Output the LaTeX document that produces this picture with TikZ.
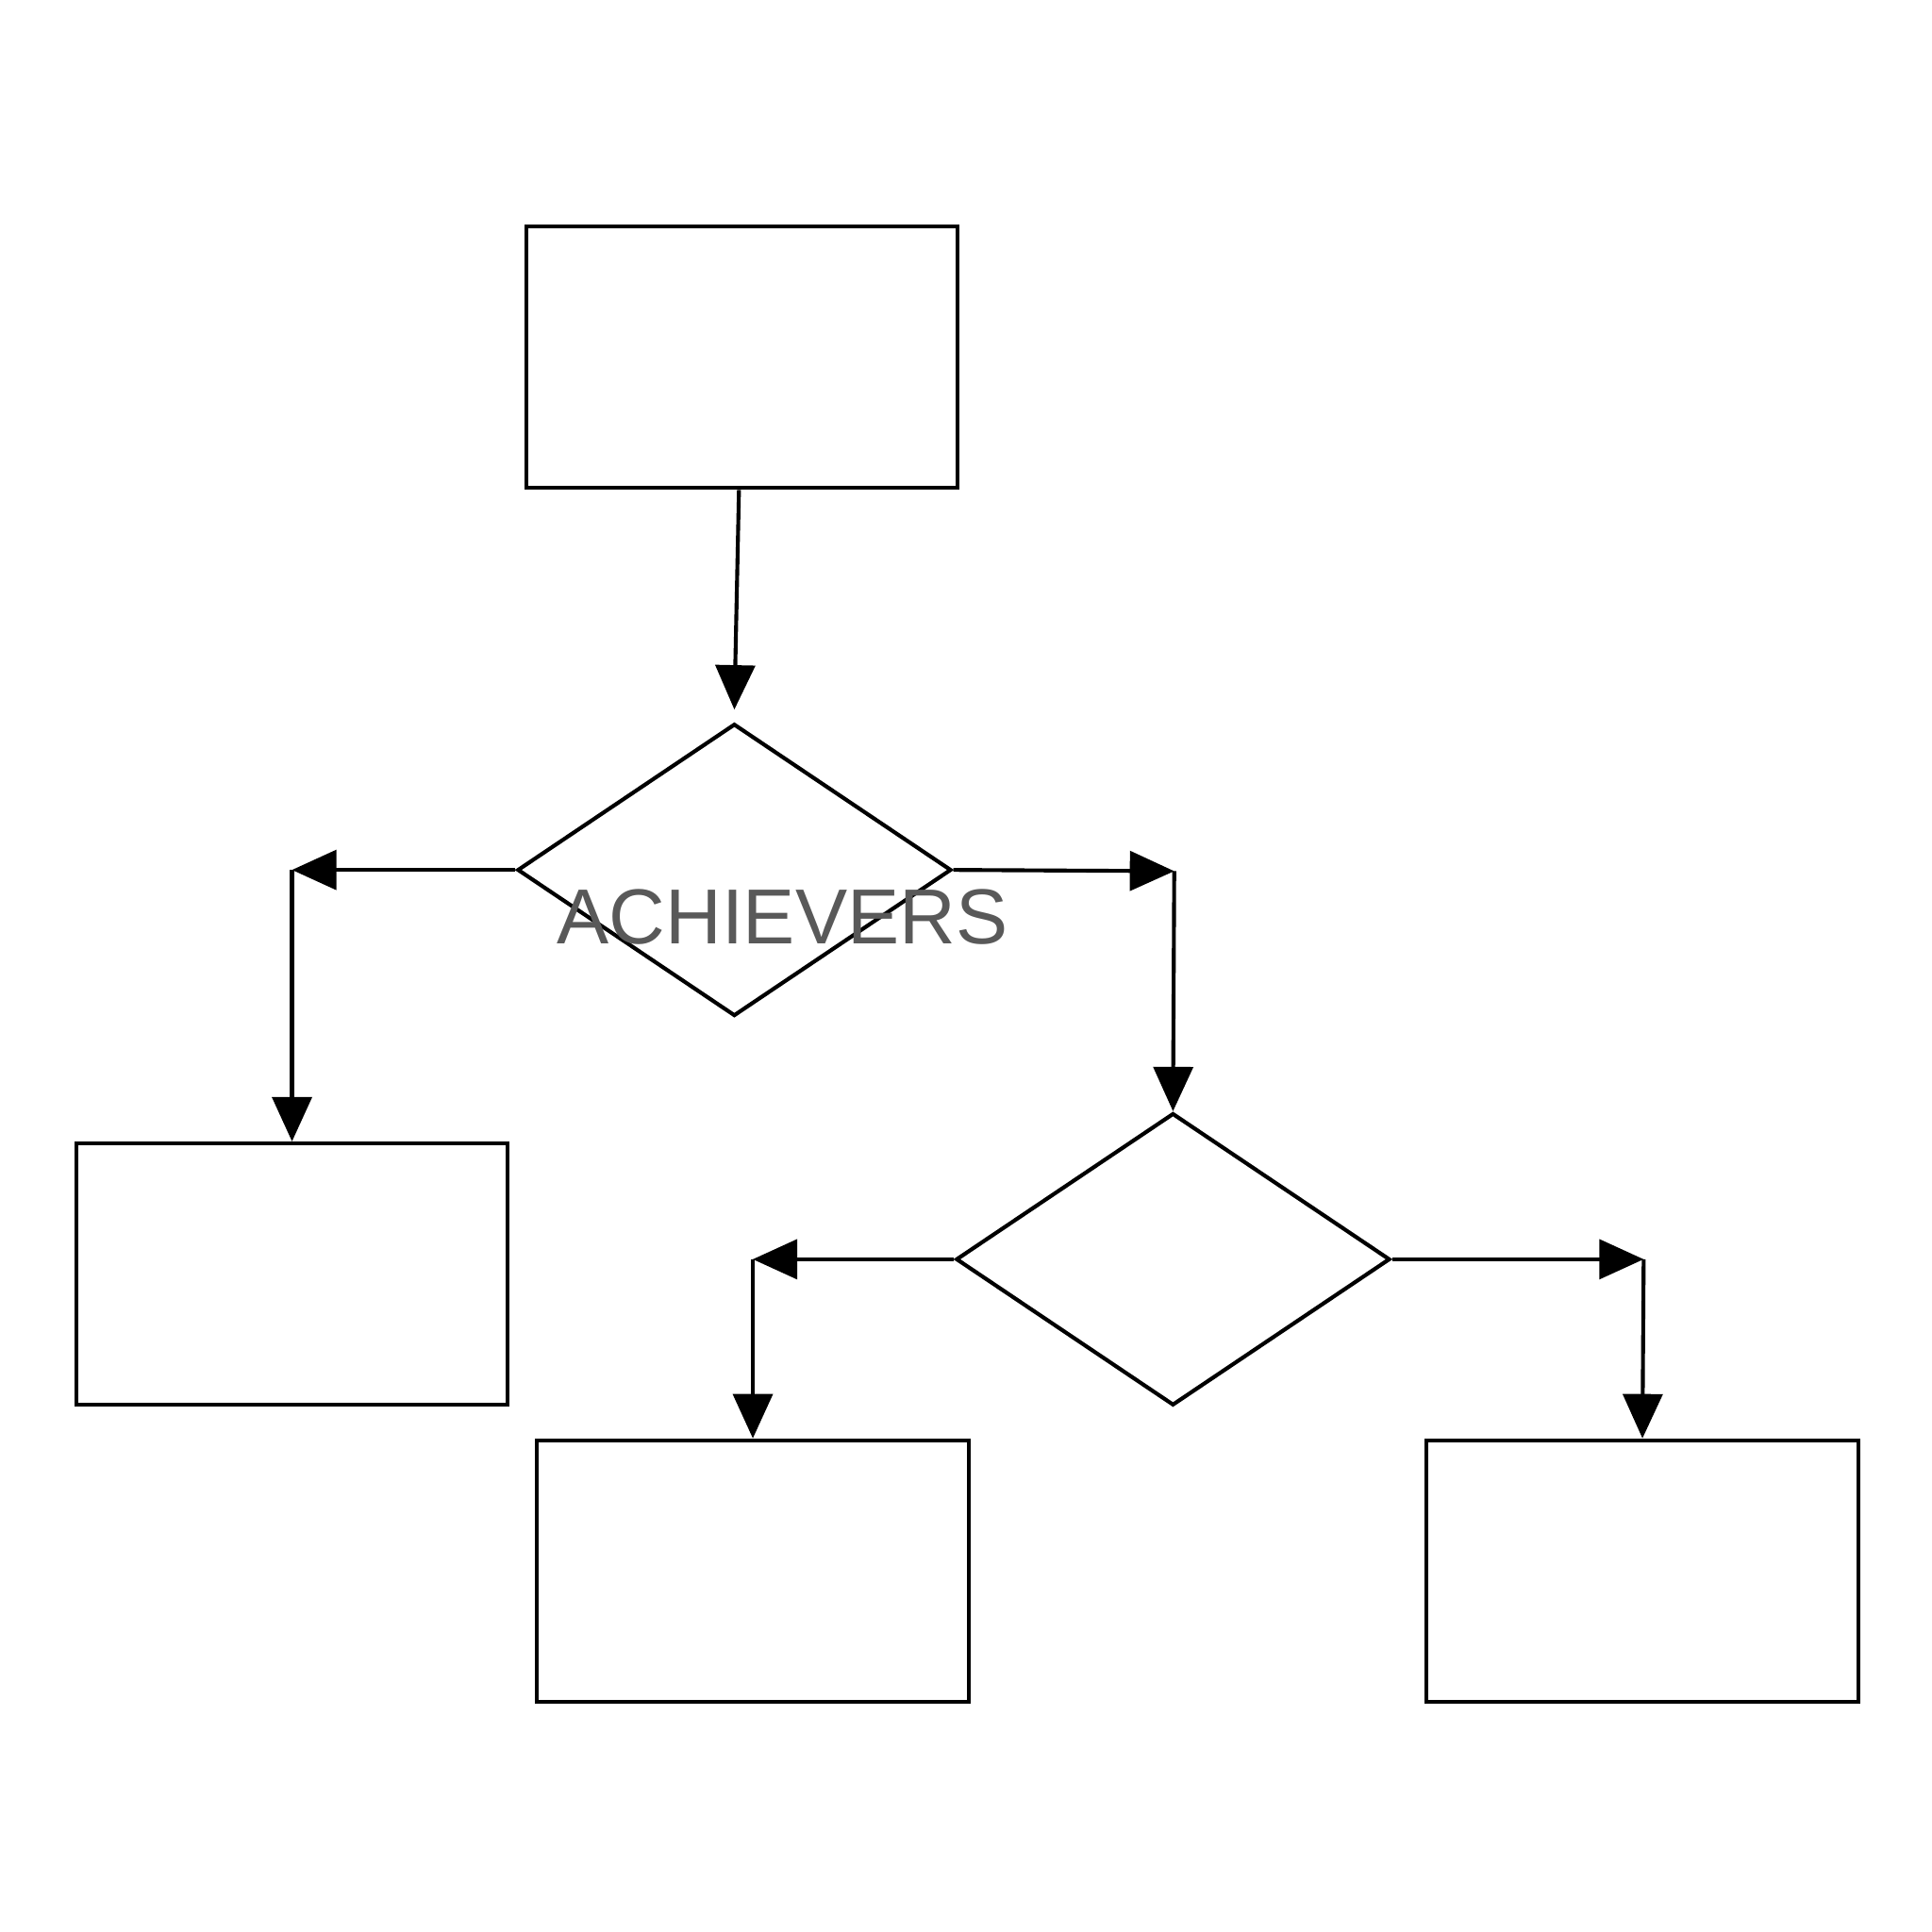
\documentclass[tikz,border=0pt]{standalone}
\usepackage{fontspec}
\setmainfont{Liberation Sans}
\usetikzlibrary{shapes.geometric,arrows.meta}
\tikzset{
    box/.style={draw, line width=0.9pt, minimum width=3.5cm, minimum height=2.12cm, inner sep=0pt},
    choice/.style={diamond, draw, line width=0.9pt, minimum width=3.52cm, minimum height=2.37cm, inner sep=0pt},
    flow/.style={line width=0.9pt, -{Triangle[length=0.36cm, width=0.32cm]}}
}
\begin{document}
\begin{tikzpicture}[x=0.01cm, y=-0.01cm]
    \useasboundingbox (0,0) rectangle (1568,1568);

    \node[box] (start) at (602,290) {};
    \node[choice] (test) at (596,706) {};
    \node[box] (left) at (237,1034) {};
    \node[choice] (check) at (952,1022) {};
    \node[box] (lower) at (611,1275) {};
    \node[box] (right) at (1333,1275) {};

    \node[text=black!65, font=\fontsize{18}{18}\selectfont] (label) at (635,744) {ACHIEVERS};

    \coordinate (lc) at (237,706);
    \coordinate (rc) at (953,707);
    \coordinate (llc) at (611,1022);
    \coordinate (rrc) at (1334,1022);

    \draw[flow] (start) -- ([yshift=0.1cm]test.north);
    \draw[flow] (test.west) -- (lc);
    \draw[flow] (lc) -- (left.north);
    \draw[flow] (test.east) -- (rc);
    \draw[flow] (rc) -- (check.north);
    \draw[flow] (check.west) -- (llc);
    \draw[flow] (llc) -- (lower.north);
    \draw[flow] (check.east) -- (rrc);
    \draw[flow] (rrc) -- (right.north);
\end{tikzpicture}
\end{document}
